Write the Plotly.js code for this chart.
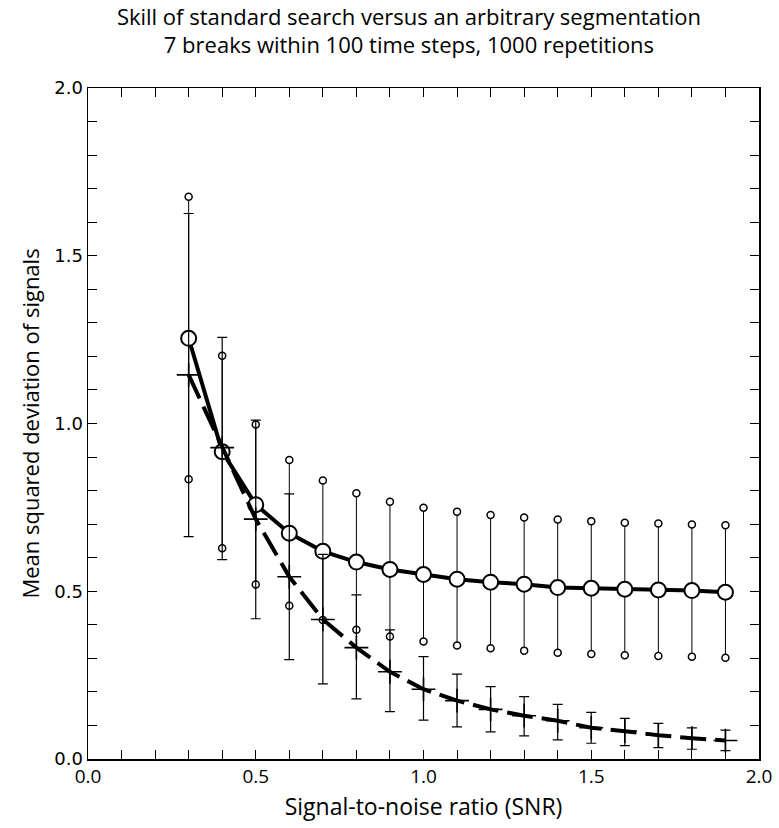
<!DOCTYPE html>
<html>
<head>
<meta charset="utf-8">
<script src="https://cdn.plot.ly/plotly-3.0.1.min.js"></script>
<style>html,body{margin:0;padding:0;background:#fff;}#chart{width:779px;height:828px;}</style>
</head>
<body>
<div id="chart"></div>
<script>
// SNR values
var snr = [0.3,0.4,0.5,0.6,0.7,0.8,0.9,1.0,1.1,1.2,1.3,1.4,1.5,1.6,1.7,1.8,1.9];

// Arbitrary segmentation (circles): mean, upper and lower bounds
var arbMean  = [1.254,0.916,0.758,0.673,0.619,0.587,0.565,0.550,0.536,0.527,0.521,0.511,0.509,0.506,0.504,0.502,0.497];
var arbUpper = [1.676,1.202,0.997,0.891,0.830,0.792,0.767,0.749,0.737,0.727,0.720,0.714,0.709,0.704,0.702,0.699,0.697];
var arbLower = [0.834,0.628,0.520,0.457,0.414,0.385,0.365,0.350,0.338,0.330,0.323,0.317,0.313,0.309,0.307,0.305,0.302];

// Standard search (crosses): mean, upper and lower bounds
var stdMean  = [1.145,0.928,0.715,0.543,0.416,0.332,0.260,0.208,0.174,0.148,0.129,0.114,0.093,0.083,0.071,0.062,0.055];
var stdUpper = [1.626,1.257,1.010,0.790,0.610,0.489,0.385,0.305,0.253,0.216,0.186,0.163,0.139,0.121,0.106,0.093,0.086];
var stdLower = [0.663,0.594,0.418,0.296,0.224,0.179,0.141,0.116,0.096,0.081,0.069,0.057,0.047,0.040,0.034,0.029,0.025];

// Axis ticks
var tickPos = [0,0.1,0.2,0.3,0.4,0.5,0.6,0.7,0.8,0.9,1.0,1.1,1.2,1.3,1.4,1.5,1.6,1.7,1.8,1.9,2.0];
var tickLab = ['0.0','','','','','0.5','','','','','1.0','','','','','1.5','','','','','2.0'];

function diff(a, b) { return a.map(function (v, i) { return v - b[i]; }); }

var traces = [
  {
    x: snr, y: arbMean, type: 'scatter', mode: 'lines+markers',
    line: {color: '#000', width: 4},
    marker: {symbol: 'circle', size: 15, color: '#fff', line: {color: '#000', width: 2}},
    error_y: {type: 'data', symmetric: false, array: diff(arbUpper, arbMean), arrayminus: diff(arbMean, arbLower),
              color: '#000', thickness: 1, width: 0},
    hoverinfo: 'skip'
  },
  {
    x: snr, y: arbUpper, type: 'scatter', mode: 'markers',
    marker: {symbol: 'circle', size: 7, color: '#fff', line: {color: '#000', width: 1.5}}, hoverinfo: 'skip'
  },
  {
    x: snr, y: arbLower, type: 'scatter', mode: 'markers',
    marker: {symbol: 'circle', size: 7, color: '#fff', line: {color: '#000', width: 1.5}}, hoverinfo: 'skip'
  },
  {
    x: snr, y: stdMean, type: 'scatter', mode: 'lines+markers',
    line: {color: '#000', width: 4, dash: '26px,9px'},
    marker: {symbol: 'cross-thin', size: 17, color: '#000', line: {color: '#000', width: 1.6}},
    error_y: {type: 'data', symmetric: false, array: diff(stdUpper, stdMean), arrayminus: diff(stdMean, stdLower),
              color: '#000', thickness: 1.2, width: 5},
    hoverinfo: 'skip'
  }
];

var axisCommon = {
  range: [0, 2], autorange: false,
  tickmode: 'array', tickvals: tickPos, ticktext: tickLab,
  ticks: 'inside', ticklen: 9, tickwidth: 1, tickcolor: '#000',
  showline: true, linecolor: '#000', linewidth: 1.5, mirror: 'allticks',
  showgrid: false, zeroline: false
};

var layout = {
  width: 779, height: 828,
  margin: {l: 88, r: 20, t: 88, b: 69},
  paper_bgcolor: '#fff', plot_bgcolor: '#fff',
  showlegend: false,
  font: {family: 'Open Sans, sans-serif', color: '#000'},
  title: {
    text: 'Skill of standard search versus an arbitrary segmentation<br>7 breaks within 100 time steps, 1000 repetitions',
    font: {size: 22, family: 'Open Sans, sans-serif', color: '#000'},
    x: 0.525, xref: 'container', xanchor: 'center', y: 0.97, yref: 'container', yanchor: 'middle'
  },
  xaxis: Object.assign({}, axisCommon, {
    title: {text: 'Signal-to-noise ratio (SNR)', font: {size: 23, family: 'Open Sans, sans-serif'}, standoff: 10},
    tickfont: {size: 19, family: 'Open Sans, sans-serif'}
  }),
  yaxis: Object.assign({}, axisCommon, {
    title: {text: 'Mean squared deviation of signals', font: {size: 22, family: 'Open Sans, sans-serif'}, standoff: 8},
    tickfont: {size: 18, family: 'DejaVu Sans, sans-serif'}
  })
};

Plotly.newPlot('chart', traces, layout, {staticPlot: true, displayModeBar: false});
</script>
</body>
</html>
